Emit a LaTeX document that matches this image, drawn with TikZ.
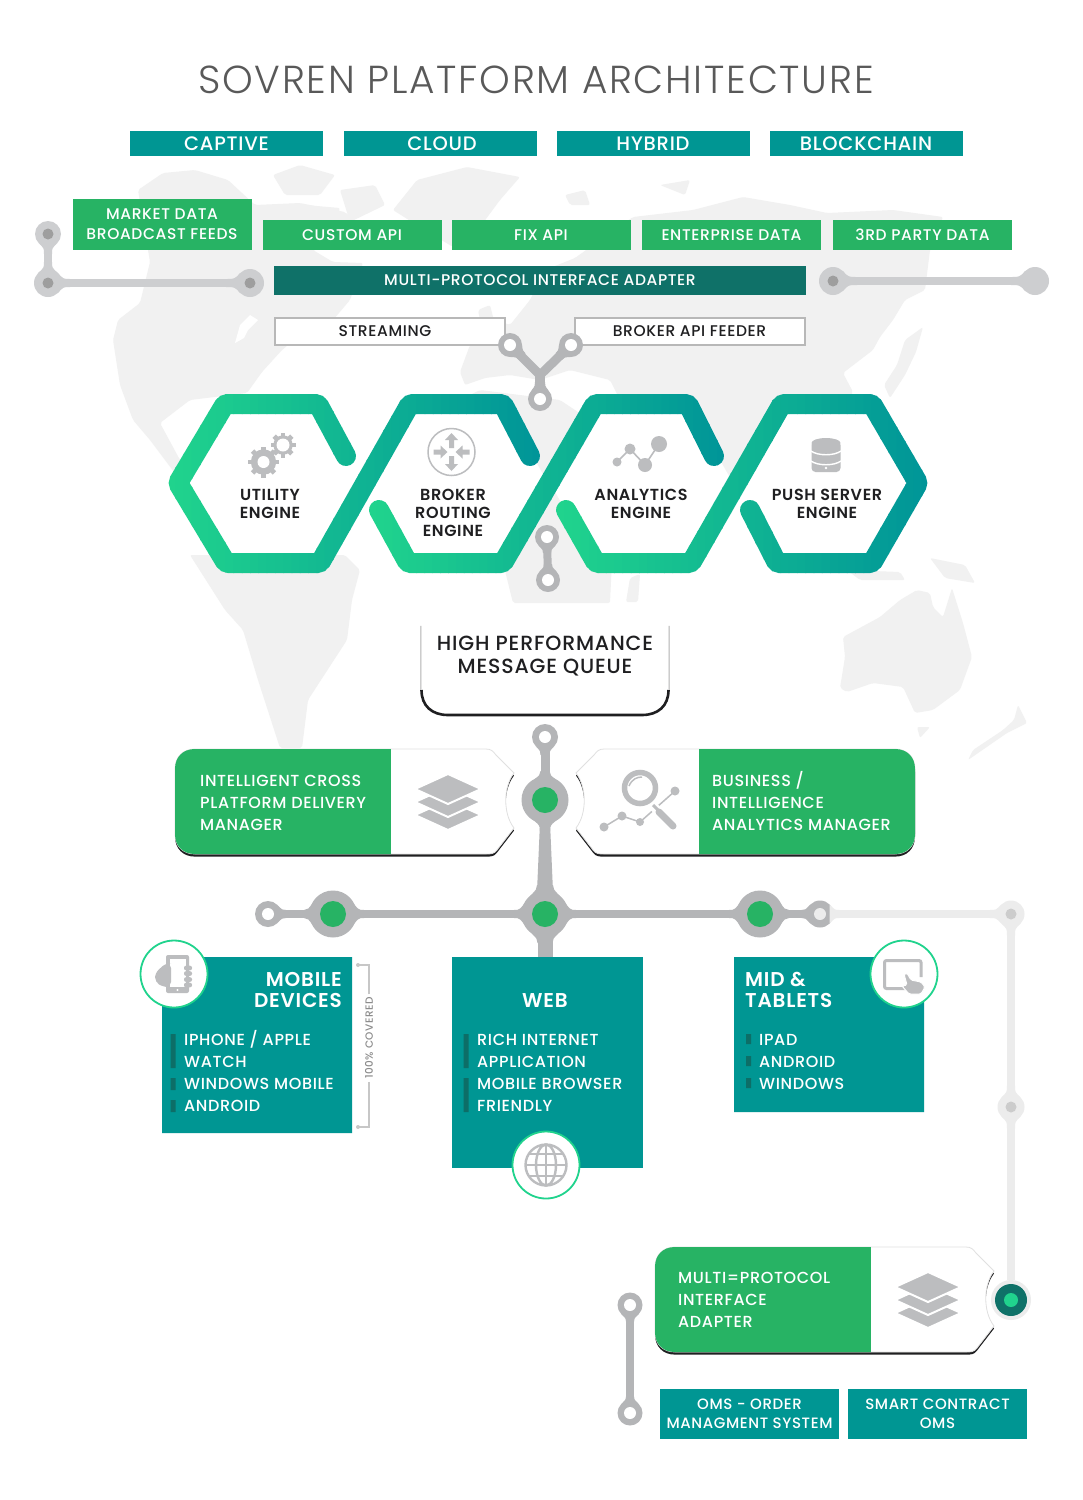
\documentclass[tikz,border=0pt]{standalone}
\usepackage{fontspec}
\usetikzlibrary{calc}
\setmainfont{Poppins Medium}[LetterSpace=4]
\newfontfamily\fsemi{Poppins SemiBold}[LetterSpace=4]
\newfontfamily\flight{Poppins Light}[LetterSpace=4.5]
\definecolor{mapgrey}{HTML}{F1F1F1}
\definecolor{tealbox}{HTML}{009693}
\definecolor{greenbox}{HTML}{27B364}
\definecolor{darkteal}{HTML}{0F7168}
\definecolor{listbar}{HTML}{0D6E67}
\definecolor{railgrey}{HTML}{B4B5B7}
\definecolor{railsoft}{HTML}{CDCED0}
\definecolor{railpale}{HTML}{ECECEC}
\definecolor{icongrey}{HTML}{BCBDBF}
\definecolor{hexgreen}{HTML}{20D38D}
\definecolor{hexteal}{HTML}{009598}
\definecolor{inkdark}{HTML}{1F1F21}
\newcommand{\ftsize}[2]{\fontsize{#1}{#2}\selectfont}
\newcommand{\ribbon}[3]{%
  \foreach \s in {0,...,44}{
    \pgfmathsetmacro\xa{#1+(#2-#1)/45*\s}
    \pgfmathsetmacro\xb{\xa+(#2-#1)/45+0.7}
    \pgfmathtruncatemacro\m{100*\s/44}
    \begin{scope}
      \clip (\xa,380) rectangle (\xb,590);
      \draw[line width=20pt, line cap=round, rounded corners=3pt, color=hexteal!\m!hexgreen] #3;
    \end{scope}
  }
}
\newcommand{\flare}[6]{%
  \begin{scope}[shift={(#1.center)}, rotate=#2]
    \fill[#6] ({0.72*#3},{-0.7*#3}) .. controls ({1.1*#3},{-#4}) .. ({#3+#5},{-#4}) -- ({#3+#5},{#4}) .. controls ({1.1*#3},{#4}) .. ({0.72*#3},{0.7*#3}) -- cycle;
  \end{scope}
}
\newcommand{\cardpath}{(195,749) -- (486,749) .. controls (491,749) and (493,751) .. (496,755) -- (514,773) .. controls (503,787) and (503,814) .. (514,828) -- (497,850) .. controls (494,854) and (491,854) .. (486,854) -- (195,854) .. controls (183,854) and (175,846) .. (175,834) -- (175,769) .. controls (175,757) and (183,749) .. (195,749) -- cycle}
\newcommand{\deliverycard}{%
  \fill[inkdark, yshift=-2.6pt] \cardpath;
  \filldraw[white, draw=black!12, line width=0.8pt] \cardpath;
  \begin{scope}
    \clip \cardpath;
    \fill[greenbox] (170,745) rectangle (391,860);
  \end{scope}
}
\newcommand{\layersicon}[2]{%
  \begin{scope}[shift={(#1,#2)}]
    \foreach \dy in {13,0,-13}{
      \filldraw[icongrey, draw=white, line width=2pt] (-33,\dy) -- (0,\dy-15) -- (33,\dy) -- (0,\dy+15) -- cycle;
    }
  \end{scope}
}
\newcommand{\gearicon}[4]{%
  \foreach \a in {0,45,...,315}{
    \fill[icongrey, rotate around={\a:(#1,#2)}] (#1-2.4,#2) rectangle (#1+2.4,#2-#3);
  }
  \fill[icongrey] (#1,#2) circle ({#3-2.8});
  \fill[white] (#1,#2) circle (#4);
}
\begin{document}
\begin{tikzpicture}[x=1pt,y=-1pt]
\tikzstyle{toptab} = [fill=tealbox, text=white, minimum width=193pt, minimum height=25pt, inner sep=0pt, font=\ftsize{19.5}{20}]
\tikzstyle{feedbox} = [fill=greenbox, text=white, minimum width=179pt, minimum height=30pt, inner sep=0pt, align=center, font=\ftsize{15.5}{20}]
\tikzstyle{outbox} = [fill=white, draw=black!28, line width=2pt, minimum width=230pt, minimum height=27pt, inner sep=0pt, text=inkdark, font=\ftsize{15.5}{20}]
\tikzstyle{omsbox} = [fill=tealbox, text=white, minimum width=179pt, minimum height=50pt, inner sep=0pt, align=center, font=\ftsize{15}{19.5}]
\tikzstyle{hextext} = [align=center, text=inkdark, inner sep=0pt, font=\fsemi\ftsize{16}{18}]
\tikzstyle{cardtext} = [align=left, anchor=west, text=white, inner sep=0pt, font=\ftsize{16}{22}]
\tikzstyle{devicehead} = [text=white, inner sep=0pt, font=\fsemi\ftsize{20}{21.5}]
\tikzstyle{iconring} = [circle, fill=white, draw=hexgreen, line width=1.8pt, minimum size=67pt, inner sep=0pt]
\tikzstyle{bar} = [fill=listbar]
\tikzstyle{ring} = [circle, fill=railgrey, minimum size=26pt, inner sep=0pt]
\tikzstyle{hub} = [circle, fill=railgrey, minimum size=47pt, inner sep=0pt]
\tikzstyle{softjoint} = [circle, fill=railsoft, minimum size=28pt, inner sep=0pt]
\tikzstyle{palejoint} = [circle, fill=railpale, minimum size=27pt, inner sep=0pt]
\tikzstyle{rail} = [railgrey, line width=8pt]
\tikzstyle{softrail} = [railsoft, line width=8pt]
\tikzstyle{palerail} = [railpale, line width=8pt]
\useasboundingbox (0,0) rectangle (1083,1500);
\fill[white] (0,0) rectangle (1083,1500);
\begin{scope}[mapgrey, rounded corners=2pt]
\fill (113,340) -- (118,320) -- (140,303) -- (150,262) -- (138,190) -- (163,173) -- (195,170) -- (228,180) -- (255,205) -- (300,203) -- (345,212) -- (372,238) -- (313,250) -- (333,262) -- (363,263) -- (350,300) -- (333,320) -- (300,335) -- (282,350) -- (262,372) -- (247,393) -- (190,400) -- (160,423) -- (180,460) -- (215,472) -- (180,480) -- (150,440) -- (133,420) -- (120,385) -- cycle;
\fill (273,175) -- (300,165) -- (335,175) -- (320,195) -- (285,195) -- cycle;
\fill (340,190) -- (375,185) -- (385,205) -- (350,222) -- cycle;
\fill (305,205) -- (340,208) -- (335,225) -- (310,222) -- cycle;
\fill (417,180) -- (467,167) -- (520,177) -- (500,200) -- (483,223) -- (453,247) -- (420,227) -- (393,210) -- cycle;
\fill (190,555) -- (225,610) -- (243,630) -- (258,680) -- (280,748) -- (302,748) -- (308,700) -- (347,640) -- (352,600) -- (360,570) -- (345,555) -- cycle;
\fill (460,372) -- (470,345) -- (495,335) -- (490,318) -- (510,325) -- (530,300) -- (545,270) -- (575,258) -- (600,240) -- (633,217) -- (693,210) -- (743,197) -- (790,205) -- (827,213) -- (893,210) -- (943,217) -- (930,250) -- (925,290) -- (905,300) -- (893,320) -- (880,337) -- (873,350) -- (843,373) -- (853,392) -- (840,420) -- (830,450) -- (820,480) -- (800,520) -- (780,540) -- (765,510) -- (745,480) -- (720,500) -- (690,450) -- (660,420) -- (640,430) -- (620,400) -- (610,380) -- (590,375) -- (570,370) -- (540,380) -- (510,375) -- (485,378) -- (465,385) -- cycle;
\fill (460,400) -- (480,390) -- (560,400) -- (620,440) -- (650,470) -- (630,520) -- (612,560) -- (610,603) -- (513,603) -- (495,530) -- (465,470) -- cycle;
\fill (923,327) -- (916,352) -- (905,375) -- (890,398) -- (884,385) -- (897,365) -- (905,340) -- cycle;
\fill (478,310) -- (490,305) -- (495,325) -- (482,330) -- cycle;
\fill (565,195) -- (585,190) -- (590,205) -- (570,205) -- cycle;
\fill (660,185) -- (690,180) -- (685,195) -- cycle;
\fill (630,578) -- (640,574) -- (638,602) -- (626,602) -- cycle;
\fill (847,570) -- (900,572) -- (905,580) -- (860,580) -- cycle;
\fill (930,558) -- (965,565) -- (975,583) -- (945,578) -- cycle;
\fill (843,637) -- (880,617) -- (900,600) -- (917,590) -- (930,593) -- (933,607) -- (943,617) -- (952,588) -- (963,623) -- (972,657) -- (960,690) -- (933,710) -- (915,713) -- (903,687) -- (873,683) -- (847,692) -- (840,688) -- (845,657) -- cycle;
\fill (917,727) -- (930,727) -- (920,738) -- cycle;
\fill (1018,705) -- (1027,723) -- (1007,733) -- (968,760) -- (973,750) -- (1003,730) -- (1014,720) -- cycle;
\end{scope}
\fill[white] (235,343) -- (240,325) -- (250,315) -- (258,320) -- (248,330) -- (244,338) -- cycle;
\node[text=black!65, inner sep=0pt, font=\flight\ftsize{39}{40}] (title) at (536,80) {SOVREN PLATFORM ARCHITECTURE};
\node[toptab] (captive) at (226.5,143.5) {CAPTIVE};
\node[toptab] (cloud) at (440,143.5) {\hspace*{4pt}CLOUD};
\node[toptab] (hybrid) at (653,143.5) {HYBRID};
\node[toptab] (blockchain) at (866,143.5) {BLOCKCHAIN};
\node[feedbox, minimum height=51pt] (marketdata) at (162,224.5) {MARKET DATA\\BROADCAST FEEDS};
\node[feedbox] (customapi) at (352,235) {CUSTOM API};
\node[feedbox] (fixapi) at (541,235) {FIX API};
\node[feedbox] (enterprise) at (731.5,235) {ENTERPRISE DATA};
\node[feedbox] (thirdparty) at (922.5,235) {3RD PARTY DATA};
\node[fill=darkteal, text=white, minimum width=532pt, minimum height=29pt, inner sep=0pt, font=\ftsize{15.5}{20}] (adapter) at (540,280) {MULTI-PROTOCOL INTERFACE ADAPTER};
\node[outbox] (streaming) at (389.5,331) {STREAMING\hspace*{9pt}};
\node[outbox] (brokerfeed) at (689.5,331) {BROKER API FEEDER};
\node[softjoint, minimum size=26pt] (railA) at (48,234) {};
\node[softjoint] (railB) at (48,283) {};
\node[softjoint] (railC) at (250,283) {};
\node[softjoint] (railD) at (833,281) {};
\node[softjoint] (railE) at (1035,281) {};
\draw[softrail] (railA) -- (railB);
\draw[softrail] (railB) -- (railC);
\draw[softrail] (railD) -- (railE);
\flare{railA}{270}{13}{4}{7}{railsoft}
\flare{railB}{90}{14}{4}{7}{railsoft}
\flare{railB}{0}{14}{4}{8}{railsoft}
\flare{railC}{180}{14}{4}{10}{railsoft}
\flare{railD}{0}{14}{4}{10}{railsoft}
\flare{railE}{180}{14}{4}{10}{railsoft}
\foreach \n in {railA,railB,railC,railD}{\fill[black!38] (\n) circle (5.5);}
\fill[white] (179,483) -- (225,404) -- (318,404) -- (363,483) -- (320,563) -- (226,563) -- cycle;
\fill[white] (363,483) -- (410,404) -- (503,404) -- (548,483) -- (503,563) -- (408,563) -- cycle;
\fill[white] (550,483) -- (595,404) -- (688,404) -- (733,483) -- (691,563) -- (596,563) -- cycle;
\fill[white] (735,483) -- (782,404) -- (872,404) -- (918,483) -- (872,563) -- (777,563) -- cycle;
\ribbon{167}{541}{(346,456) -- (318,404) -- (225,404) -- (178,483) -- (226,563) -- (320,563) -- (410,404) -- (503,404) -- (530,456)}
\ribbon{369}{725}{(379,510) -- (408,563) -- (503,563) -- (595,404) -- (688,404) -- (714,456)}
\ribbon{556}{930}{(566,510) -- (596,563) -- (691,563) -- (782,404) -- (872,404) -- (918,483) -- (872,563) -- (777,563) -- (750,510)}
\node[ring, minimum size=24pt] (vleft) at (510,345) {};
\node[ring, minimum size=24pt] (vright) at (571,345) {};
\node[ring, minimum size=24pt] (vfoot) at (540,399) {};
\coordinate (vjoin) at (540,375);
\draw[rail, line width=9pt] (vleft) -- (vjoin);
\draw[rail, line width=9pt] (vright) -- (vjoin);
\draw[rail, line width=10pt] (vjoin) -- (vfoot);
\flare{vleft}{-43}{12}{4.5}{5}{railgrey}
\flare{vright}{223}{12}{4.5}{5}{railgrey}
\flare{vfoot}{90}{12}{5}{5}{railgrey}
\node[ring, minimum size=24pt] (dropa) at (547,537) {};
\node[ring, minimum size=24pt] (dropb) at (548,580) {};
\draw[rail, line width=8pt] (dropa) -- (dropb);
\flare{dropa}{270}{12}{4}{4}{railgrey}
\flare{dropb}{90}{12}{4}{4}{railgrey}
\foreach \n in {vleft,vright,vfoot,dropa,dropb}{\fill[white] (\n) circle (6);}
\node[hextext] (utility) at (270,504) {UTILITY\\ENGINE};
\node[hextext] (broker) at (453,513) {BROKER\\ROUTING\\ENGINE};
\node[hextext] (analytics) at (641,504) {ANALYTICS\\ENGINE};
\node[hextext] (push) at (827,504) {PUSH SERVER\\ENGINE};
\gearicon{263.5}{462}{15.5}{6}
\gearicon{283}{445}{12.5}{6.5}
\draw[icongrey, line width=1.5pt, fill=white] (451.5,452) circle (23.5);
\begin{scope}[shift={(451.5,452)}]
\foreach \a in {90,270}{
  \fill[icongrey, rotate=\a] (4,-2.5) -- (12,-2.5) -- (12,-6.5) -- (19,0) -- (12,6.5) -- (12,2.5) -- (4,2.5) -- cycle;
}
\foreach \a in {0,180}{
  \fill[icongrey, rotate=\a] (18,-2.5) -- (11,-2.5) -- (11,-6.5) -- (4,0) -- (11,6.5) -- (11,2.5) -- (18,2.5) -- cycle;
}
\end{scope}
\draw[icongrey, line width=1.6pt] (617,462) -- (630,449) -- (645,465) -- (659,444);
\fill[icongrey] (617,462) circle (4.5) (630,449) circle (5.5) (645,465) circle (7) (659,444) circle (8);
\fill[icongrey, rounded corners=4pt] (811.5,441) rectangle (840.5,472);
\fill[icongrey] (826,443) ellipse (14.5 and 5);
\draw[white, line width=1.4pt] (811,451) .. controls (818,456) and (834,456) .. (841,451);
\draw[white, line width=1.4pt] (811,461) .. controls (818,466) and (834,466) .. (841,461);
\fill[white] (826,468) circle (1.4);
\node[fill=white, minimum width=248pt, minimum height=90pt, inner sep=0pt] (queue) at (545,671) {};
\draw[black!30, line width=1pt] (queue.north west) -- (421,692);
\draw[black!30, line width=1pt] (queue.north east) -- (669,692);
\draw[inkdark, line width=2.6pt] (421.5,690) .. controls (421.5,706) and (432,715) .. (448,715) -- (642,715) .. controls (658,715) and (668.5,706) .. (668.5,690);
\node[text=inkdark, align=center, inner sep=0pt, font=\ftsize{20.5}{22.5}] (queuetext) at (545,656) {HIGH PERFORMANCE\\MESSAGE QUEUE};
\deliverycard
\begin{scope}[shift={(1090,0)}, xscale=-1]
\deliverycard
\end{scope}
\begin{scope}[shift={(480,498)}]
\deliverycard
\end{scope}
\node[palejoint] (paleA) at (1011,914) {};
\node[palejoint] (paleB) at (1011,1107) {};
\node[circle, fill=railpale, minimum size=40pt, inner sep=0pt] (terminal) at (1011,1300) {};
\node[ring, minimum size=27pt] (busfarright) at (820,914) {};
\draw[palerail] (busfarright) -- (paleA);
\draw[palerail] (paleA) -- (paleB);
\draw[palerail] (paleB) -- (terminal);
\flare{busfarright}{0}{13.5}{4}{6}{railpale}
\flare{paleA}{180}{13.5}{4}{8}{railpale}
\flare{paleA}{270}{13.5}{4}{8}{railpale}
\flare{paleB}{90}{13.5}{4}{8}{railpale}
\flare{paleB}{270}{13.5}{4}{8}{railpale}
\fill[black!20] (paleA) circle (5.5) (paleB) circle (5.5);
\fill[darkteal] (terminal) circle (16);
\fill[hexgreen] (terminal) circle (7);
\node[ring] (topring) at (545,737) {};
\node[hub] (centerhub) at (545,800) {};
\node[hub] (mainhub) at (545,914) {};
\node[hub] (lefthub) at (333,914) {};
\node[hub] (righthub) at (760,914) {};
\node[ring] (busfarleft) at (268,914) {};
\coordinate (webtop) at (545,958);
\draw[rail, line width=9pt] (topring) -- (centerhub);
\draw[rail, line width=10pt] (centerhub) -- (mainhub);
\fill[railgrey] ($(centerhub)+(-5,22)$) -- ($(centerhub)+(5,22)$) -- ($(mainhub)+(8,-22)$) -- ($(mainhub)+(-8,-22)$) -- cycle;
\draw[rail] (busfarleft) -- (lefthub);
\draw[rail] (lefthub) -- (mainhub);
\draw[rail] (mainhub) -- (righthub);
\draw[rail] (righthub) -- (busfarright);
\draw[rail, line width=15pt] (mainhub) -- (webtop);
\flare{topring}{270}{13}{4.5}{5}{railgrey}
\flare{centerhub}{270}{23}{5}{8}{railgrey}
\flare{centerhub}{90}{23}{4.5}{6}{railgrey}
\flare{mainhub}{90}{23}{8}{6}{railgrey}
\flare{mainhub}{270}{23}{7.5}{6}{railgrey}
\flare{mainhub}{0}{23}{4}{8}{railgrey}
\flare{mainhub}{180}{23}{4}{8}{railgrey}
\flare{lefthub}{0}{23}{4}{8}{railgrey}
\flare{lefthub}{180}{23}{4}{6}{railgrey}
\flare{righthub}{0}{23}{4}{6}{railgrey}
\flare{righthub}{180}{23}{4}{8}{railgrey}
\flare{busfarleft}{0}{13}{4}{5}{railgrey}
\flare{busfarright}{180}{13.5}{4}{5}{railgrey}
\foreach \n in {centerhub,mainhub,lefthub,righthub}{\fill[greenbox] (\n) circle (13);}
\fill[white] (topring) circle (6) (busfarleft) circle (6);
\fill[railpale] (busfarright) circle (6);
\node[cardtext] (deliverytext) at (200,803) {INTELLIGENT CROSS\\PLATFORM DELIVERY\\MANAGER};
\node[cardtext] (bitext) at (712,801) {BUSINESS /\\INTELLIGENCE\\ANALYTICS MANAGER};
\node[cardtext] (adaptertext) at (678,1300) {MULTI=PROTOCOL\\INTERFACE\\ADAPTER};
\layersicon{448}{802}
\layersicon{928}{1300}
\draw[icongrey, line width=5.5pt, fill=white] (640,788) circle (15.5);
\draw[icongrey, line width=1.5pt] (629,786) .. controls (632,779) and (637,777) .. (642,777);
\draw[icongrey, line width=1.5pt] (604,827) -- (622,816) -- (640,822) -- (675,791);
\fill[icongrey] (604,827) circle (4.5) (622,816) circle (4.5) (640,822) circle (4) (675,791) circle (4.5);
\draw[white, line width=9pt] (653,806) -- (677,830);
\draw[icongrey, line width=7pt, line cap=round] (659,812) -- (673,826);
\draw[icongrey, line width=3pt] (653,805) -- (660,812);
\fill[tealbox] (352,957) -- (195,957) .. controls (175,957) and (162,970) .. (162,990) -- (162,1133) -- (352,1133) -- cycle;
\fill[tealbox] (452,957) rectangle (643,1168);
\fill[tealbox] (734,957) -- (892,957) .. controls (912,957) and (924,970) .. (924,990) -- (924,1112) -- (734,1112) -- cycle;
\node[iconring] (mobileicon) at (174,974) {};
\node[iconring] (webicon) at (546,1165) {};
\node[iconring] (tableticon) at (904,974) {};
\node[devicehead, align=right, anchor=east] (mobilehead) at (342,990) {MOBILE\\DEVICES};
\node[devicehead] (webhead) at (545,1001) {WEB};
\node[devicehead, align=left, anchor=west] (tablethead) at (745,990) {MID \&\\TABLETS};
\node[cardtext] (mobilelist) at (184,1071) {IPHONE / APPLE\\WATCH\\WINDOWS MOBILE\\ANDROID};
\node[cardtext] (weblist) at (477,1073) {RICH INTERNET\\APPLICATION\\MOBILE BROWSER\\FRIENDLY};
\node[cardtext] (tabletlist) at (759,1062) {IPAD\\ANDROID\\WINDOWS};
\fill[bar] (170.5,1034) rectangle (175.5,1068) (170.5,1078) rectangle (175.5,1090) (170.5,1100) rectangle (175.5,1112);
\fill[bar] (463.5,1034) rectangle (468.5,1068) (463.5,1078) rectangle (468.5,1112);
\fill[bar] (746,1034) rectangle (751,1044) (746,1056) rectangle (751,1066) (746,1078) rectangle (751,1088);
\node[rotate=90, text=black!45, inner sep=3pt, font=\ftsize{10.5}{12}] (covered) at (369,1038) {100\% COVERED};
\coordinate (covertop) at (358,965);
\coordinate (coverbottom) at (358,1127);
\draw[black!22, line width=1.3pt] (covered.east) |- (covertop);
\draw[black!22, line width=1.3pt] (covered.west) |- (coverbottom);
\fill[black!22] (covertop) circle (2) (coverbottom) circle (2);
\fill[icongrey, rounded corners=2pt] (166,955) rectangle (189,993);
\fill[white] (169.5,959) rectangle (186,987);
\fill[white] (177.5,990) circle (1.2);
\fill[icongrey, rounded corners=5pt] (155,973) -- (166,963) -- (171,963) -- (171,987) -- (163,987) -- (155,982) -- cycle;
\foreach \y in {968,973.5,979.5,985}{\fill[icongrey, rounded corners=2pt] (184,\y-2.3) rectangle (192,\y+2.3);}
\draw[icongrey, line width=2.4pt] (546,1165) circle (20.5);
\draw[icongrey, line width=2.4pt] (546,1165) ellipse (10 and 20.5);
\draw[icongrey, line width=2.4pt] (546,1144.5) -- (546,1185.5) (526,1165) -- (566,1165) (529,1154) -- (563,1154) (529,1176) -- (563,1176);
\draw[icongrey, line width=3pt, rounded corners=2pt] (921,977) -- (921,960.5) -- (884.5,960.5) -- (884.5,988.5) -- (906,988.5);
\filldraw[icongrey, draw=white, line width=1pt, rounded corners=1.5pt] (904,974) -- (907,973) -- (911,980) -- (921,982) -- (925,987) -- (921,994) -- (909,994) -- (902,986) -- (907,985) -- cycle;
\node[ring, minimum size=25pt] (portA) at (630,1305) {};
\node[ring, minimum size=25pt] (portB) at (630,1413) {};
\draw[rail] (portA) -- (portB);
\flare{portA}{270}{12.5}{4}{4}{railgrey}
\flare{portB}{90}{12.5}{4}{4}{railgrey}
\fill[white] (portA) circle (6) (portB) circle (6);
\node[omsbox] (oms) at (749.5,1414) {OMS - ORDER\\MANAGMENT SYSTEM};
\node[omsbox] (smartoms) at (937.5,1414) {SMART CONTRACT\\OMS};
\end{tikzpicture}
\end{document}
